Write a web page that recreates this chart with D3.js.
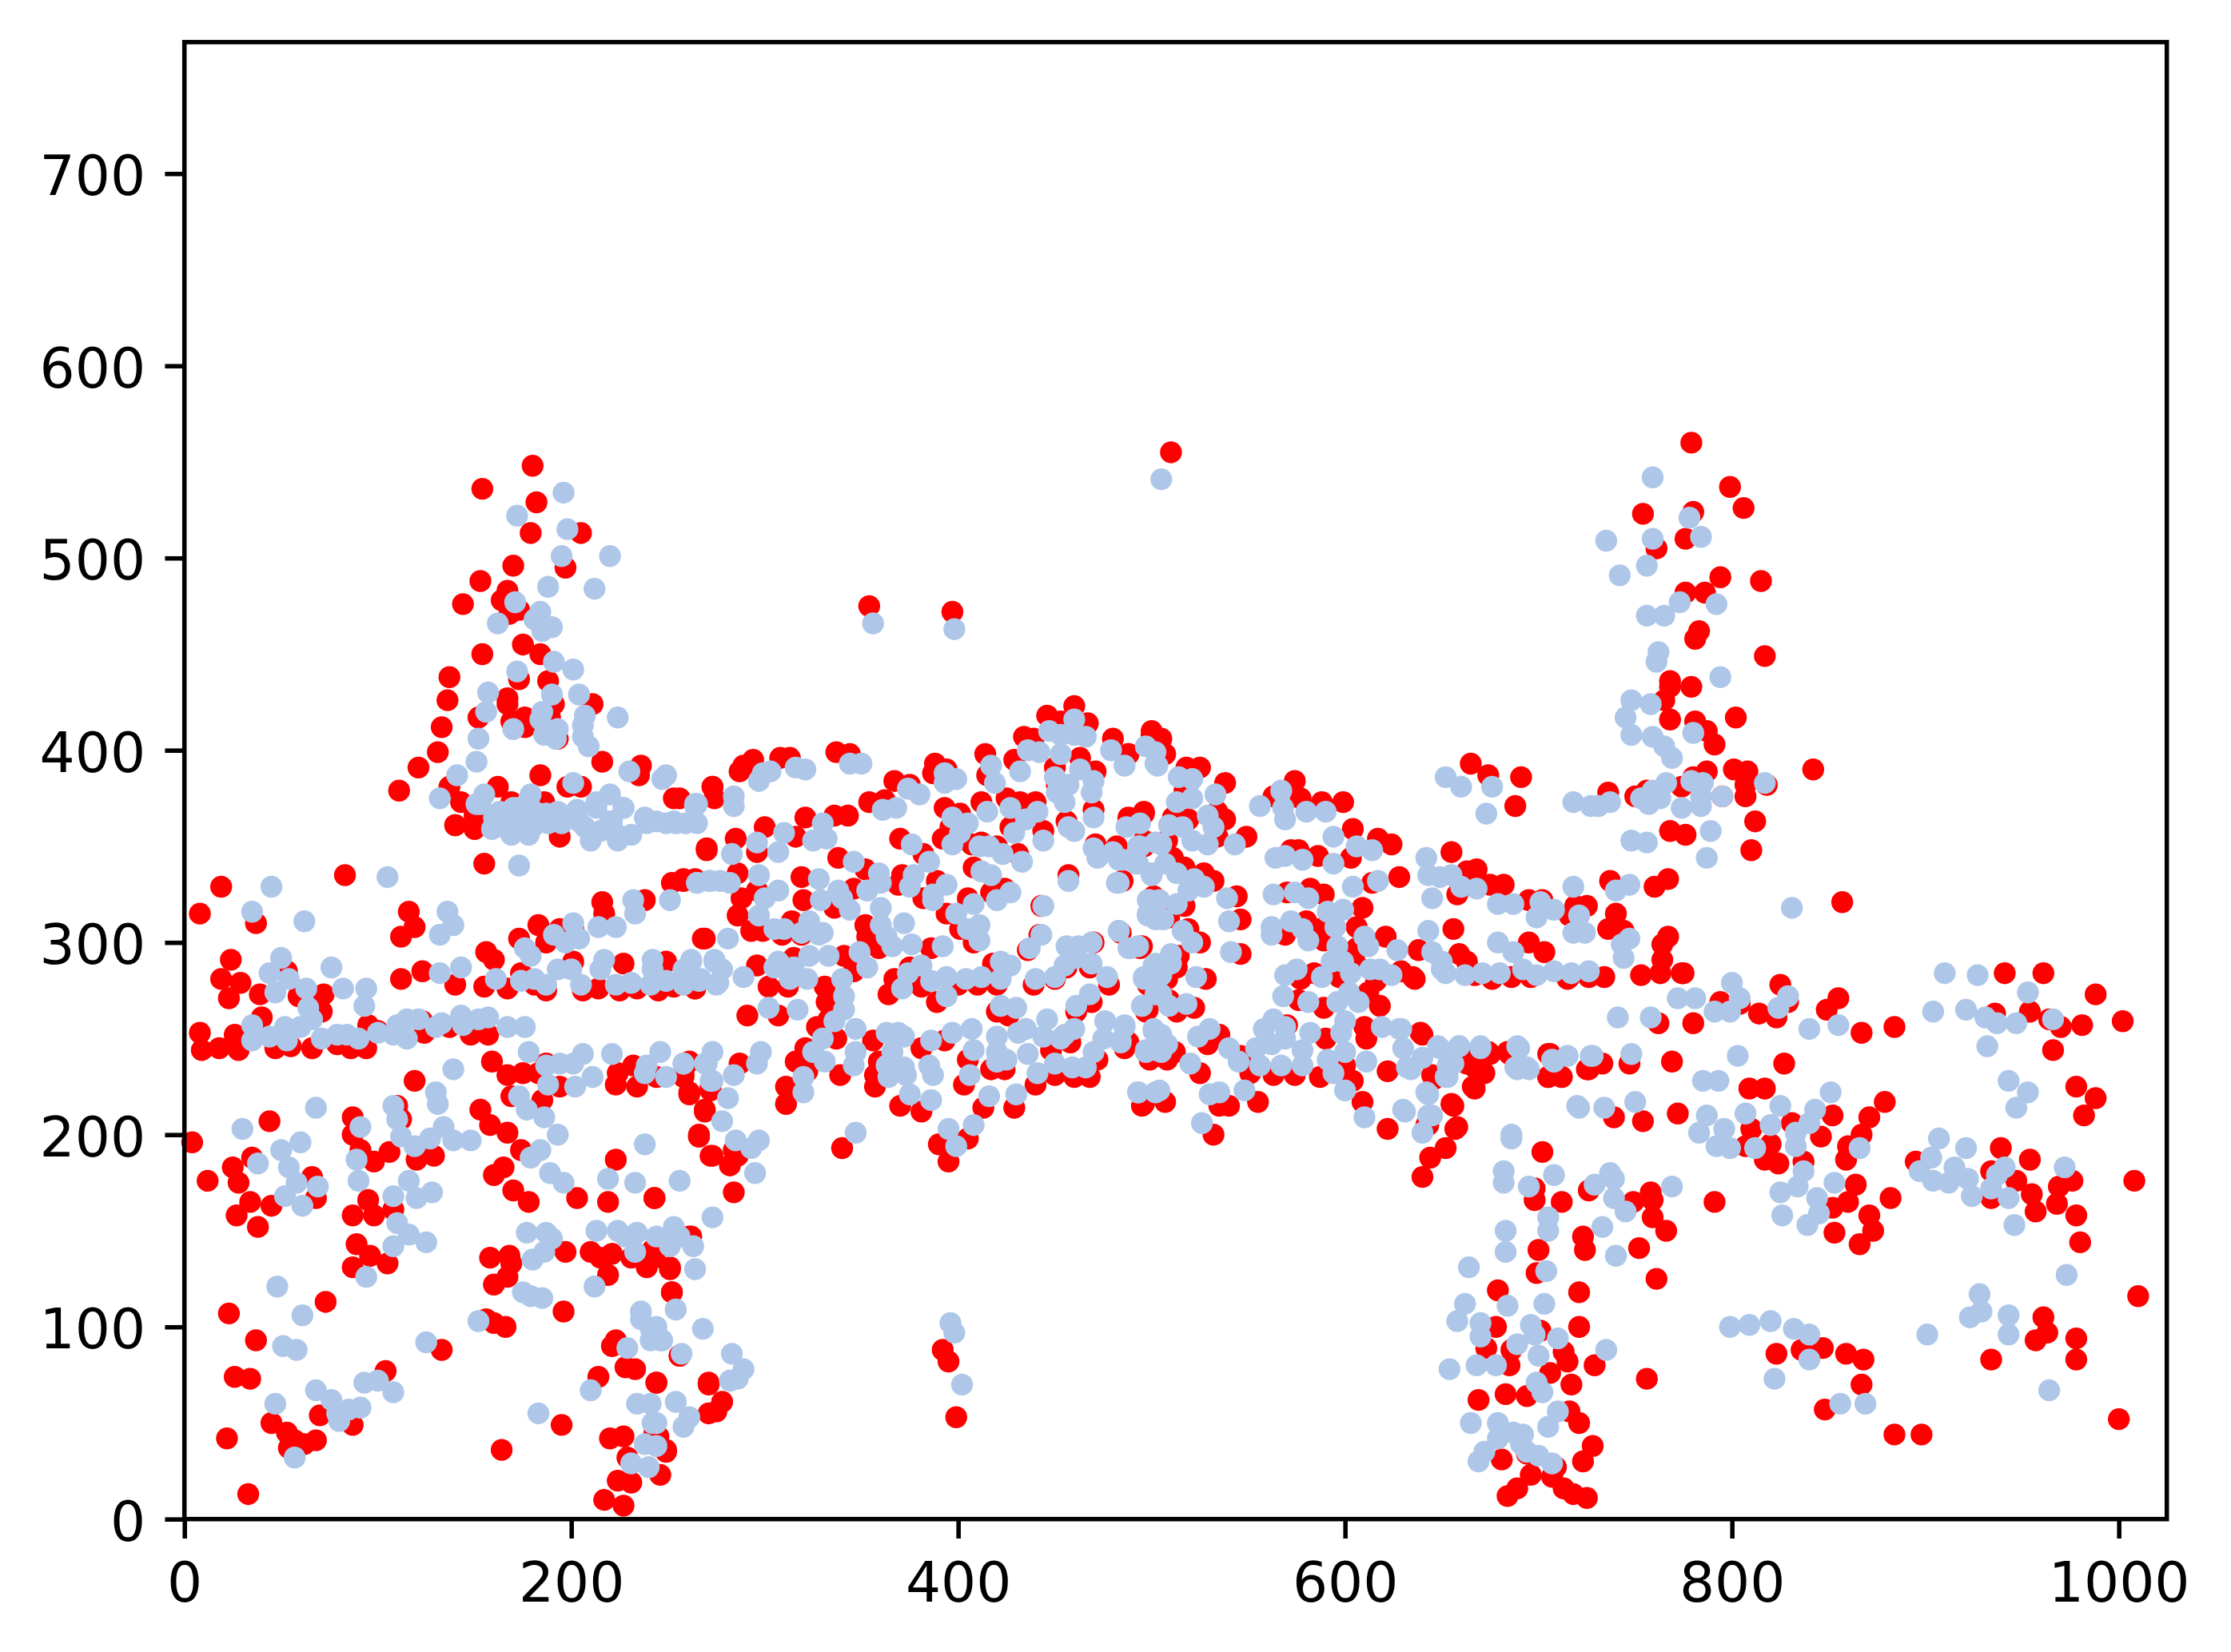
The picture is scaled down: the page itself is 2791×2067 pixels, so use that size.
<!DOCTYPE html>
<html>
<head>
<meta charset="utf-8">
<script src="https://d3js.org/d3.v7.min.js"></script>
<style>
  body { margin: 0; background: #fff; }
  text { font-family: "DejaVu Sans"; }
</style>
</head>
<body>
<div id="chart"></div>
<script>
// axis ticks
var xTicks = [0, 200, 400, 600, 800, 1000]
var yTicks = [0, 100, 200, 300, 400, 500, 600, 700]

// red points as [x, y]
var redLeft = [[140,361],[150,359],[194,355],[155,341],[83,335],[19,329],[8,315],[37,310],[270,348],[252,331],[258,332],[238,322],[216,321],[217,315],[116,316],[119,308],[112,303],[173,302],[183,309],[187,300],[201,307],[194,307],[269,302],[156,295],[160,291],[24,291],[19,281],[29,279],[23,271],[39,273],[53,285],[72,273],[59,272],[71,264],[40,261],[112,281],[123,285],[140,278],[155,277],[167,276],[174,284],[181,278],[187,275],[201,290],[206,275],[214,276],[225,275],[227,289],[234,276],[245,275],[249,290],[253,277],[264,276],
  [8,253],[9,244],[18,245],[26,252],[28,244],[47,245],[55,246],[66,245],[79,247],[86,245],[94,245],[95,257],[100,254],[123,259],[124,253],[137,256],[148,252],[157,252],[159,238],[167,231],[175,232],[183,232],[187,237],[119,228],[223,226],[224,232],[232,236],[234,225],[244,230],[258,232],[261,222],[272,225],[169,220],[185,218],[194,225],[153,213],[158,205],[167,201],[269,213],[266,199],[272,189],
  [4,196],[44,207],[87,209],[87,200],[110,215],[112,208],[91,192],[98,186],[106,191],[120,187],[129,189],[35,188],[25,183],[28,175],[12,176],[34,165],[45,163],[27,158],[38,152],[66,178],[68,167],[95,166],[108,161],[87,158],[98,158],[89,143],[96,137],[87,131],[105,133],[223,187],[174,192],[165,183],[160,179],[170,171],[178,165],[203,167],[219,165],[243,167],
  [158,136],[168,137],[169,133],[167,126],[160,122],[197,139],[210,139],[215,136],[221,138],[231,136],[219,127],[239,131],[242,140],[251,131],[262,147],[252,118],[23,107],[73,113],[37,93],[156,104],[160,102],[166,100],[196,108],[133,88],[223,93],[221,90],[228,79],[233,78],[256,85],[214,74],[26,74],[34,73],[104,77],[244,71],[271,71],[22,42],[45,50],[53,45],[57,41],[54,37],[62,39],[68,41],[70,54],[87,49],[195,49],[164,36],[271,55],[33,13],[220,42],[227,43],[229,32],[243,45],[249,36],[246,23],[224,20],[231,19],[217,10],[227,7],[278,61],[275,56]]

var redPeak = [[180,548],[154,536],[182,529],[179,513],[205,513],[170,496],[197,495],[153,488],[144,476],[167,483],[164,478],[173,473],[168,471],[175,455],[154,450],[184,450],[137,438],[173,437],[188,436],[136,426],[167,427],[167,424],[191,424],[211,424],[152,417],[133,412],[176,417],[169,415],[176,412],[189,417],[193,406],[131,399],[121,391],[216,394],[184,387],[236,392],[235,387],[111,379],[137,381],[162,381],[205,381],[198,381],[273,381],[253,375],[143,373],[140,361],[150,366],[186,373],[169,373]]

var redMiddle = [[273,381],[274,375],[287,389],[289,392],[294,395],[308,396],[313,396],[337,399],[344,398],[367,384],[375,382],[354,373],[362,374],[388,393],[394,390],[387,388],[414,398],[415,387],[429,395],[434,407],[439,406],[446,418],[453,415],[460,423],[467,414],[450,391],[463,396],[471,389],[451,382],[480,406],[488,398],[500,408],
  [256,375],[393,370],[401,367],[412,373],[425,375],[432,373],[440,373],[396,360],[392,354],[427,360],[444,358],[456,363],[470,369],[488,365],[496,367],[471,351],[482,350],[496,350],[457,335],[485,332],[443,319],[501,324],[442,304],[436,296],[484,305],[494,297],[470,300],[439,278],[450,281],[456,287],[468,287],[478,278],[469,269],[461,264],[497,264],[420,264],[426,262],
  [300,360],[316,355],[321,365],[336,366],[343,366],[285,354],[270,349],[296,347],[286,336],[258,333],[264,333],[288,323],[296,327],[286,314],[293,306],[299,306],[309,304],[314,311],[319,304],[268,302],[319,334],[320,322],[338,344],[352,338],[346,328],[336,318],[352,309],[353,303],[359,297],[341,293],[346,285],[371,335],[369,330],[370,354],[382,346],[389,332],[382,323],[394,315],[401,307],[408,300],[405,323],[417,326],[424,328],[408,339],[407,351],[412,352],[420,350],[431,346],[386,297],
  [296,288],[315,292],[302,277],[312,277],[331,277],[332,269],[333,260],[327,256],[321,245],[316,238],[322,233],[337,250],[264,276],[291,262],[307,262],[261,238],[287,237],[258,230],[272,223],[261,221],[269,212],[266,200],[311,225],[311,216],[339,231],
  [367,281],[364,273],[375,287],[381,277],[389,269],[400,278],[410,278],[420,278],[418,289],
  [356,249],[359,238],[357,231],[357,225],[370,215],[381,212],[381,245],[393,249],[405,239],[403,226],[413,214],[417,234],[424,234],[440,226],[450,231],[460,230],[468,230],[429,214],[495,215],[486,245],[472,239],[458,248],[448,244],
  [266,199],[273,189],[282,184],[286,189],[284,192],[284,170],[340,193],[390,195],[405,198],[395,186],[243,167],[261,147],[243,136],[251,130],[252,118],[256,85],[244,71],[271,70],[392,88],[395,82],[399,53],[249,35],[245,43],
  [510,555],[354,475],[397,472]]

var redCentre = [[500,410],[505,406],[507,398],[488,398],[518,391],[525,391],[538,383],[517,379],[534,368],[538,364],[496,368],[488,364],[519,364],[511,365],[496,353],[508,353],[534,355],[549,355],[511,344],[517,339],[527,336],[532,332],[544,324],[546,312],[546,294],[528,281],[522,266],[517,319],[509,313],[519,307],[525,300],[514,293],[495,298],[513,287],[508,281],[498,278],[509,270],[498,265],[513,264],[486,250],[512,243],[499,239],[508,239],[488,248],[535,252],[529,247],[546,241],[525,232],[496,216],[507,217],[535,215],[540,215],[555,217],[532,200],
  [574,384],[563,376],[577,375],[588,373],[599,373],[604,359],[617,354],[624,351],[572,348],[576,348],[586,345],[603,344],[614,331],[628,334],[570,326],[582,328],[589,325],[609,318],[606,308],[580,311],[587,307],[569,304],[589,301],[621,303],[606,297],[605,290],[584,284],[577,281],[597,282],[616,280],[629,285],[636,281],[612,274],[618,267],[576,270],[589,266],[570,257],[590,250],[610,256],[611,250],[640,252],[551,232],[563,231],[574,231],[587,230],[604,228],[600,236],[622,233],[609,217],[646,229],
  [665,393],[674,387],[691,386],[688,371],[655,347],[663,337],[668,338],[675,330],[682,330],[658,325],[695,322],[702,322],[719,319],[725,319],[716,314],[656,307],[695,300],[703,295],[638,296],[659,294],[663,290],[667,283],[676,281],[686,282],[696,282],[716,282],[726,282],
  [668,242],[675,242],[667,235],[672,232],[667,224],[685,242],[706,242],[705,230],[712,230],[726,234],[656,215],[658,204],[643,205],[622,203]]

var redRight = [[779,560],[799,537],[806,526],[754,523],[780,524],[776,510],[761,505],[794,490],[815,488],[776,482],[786,482],[783,462],[781,458],[817,449],[768,436],[768,433],[779,433],[765,426],[802,417],[768,416],[781,415],[787,410],[791,403],[842,390],[787,389],[780,386],[801,390],[808,389],[807,382],[818,382],[807,376],[795,376],[774,381],[736,378],[750,376],[756,379],[812,363],[810,348],[768,358],[776,356],[857,321],[767,333],[760,329],[737,332],[740,315],[736,307],[744,306],[767,303],[764,299],[764,291],[775,284],
  [635,282],[774,284],[763,284],[753,283],[715,281],[734,282],[941,284],[961,284],[988,273],[825,278],[794,269],[804,268],[829,269],[855,271],[849,265],[814,263],[823,261],[762,258],[780,258],[867,253],[884,256],[1002,259],[936,263],[954,264],[964,260],[970,256],[981,257],[966,244],
  [639,253],[674,243],[684,243],[705,242],[725,234],[733,237],[747,237],[769,238],[827,237],[705,230],[712,230],[670,233],[663,237],[645,231],[666,225],[655,216],[657,203],[652,193],[644,188],[640,178],[642,205],[809,224],[817,224],[739,209],[754,207],[772,211],[702,191],[852,210],[879,217],[871,209],[867,200],[860,194],[859,187],[846,199],[831,206],[810,203],[807,194],[820,195],[817,187],[824,185],[837,186],[864,174],[860,165],[852,162],[882,167],[871,158],[873,150],[866,143],[853,149],
  [895,186],[939,193],[954,187],[934,181],[947,176],[934,167],[955,169],[968,164],[969,173],[976,176],[957,160],[978,158],[980,144],[1008,176],[978,225],[988,219],[982,210],[1010,116],
  [698,172],[698,166],[712,165],[726,171],[749,165],[758,170],[759,166],[759,157],[766,150],[791,165],[723,147],[724,140],[752,141],[700,140],[699,128],[761,125],[679,119],[721,118],[678,100],[701,98],[721,100],[673,89],[686,88],[713,87],[715,82],[685,80],[729,80],[706,76],[717,70],[683,65],[694,64],[669,62],[756,73],[716,56],[721,50],[728,38],[723,30],[681,31],[694,34],[709,27],[696,23],[707,22],[689,16],[684,12],[713,16],[718,13],[725,11],
  [823,86],[836,88],[847,89],[859,86],[868,83],[867,70],[848,57],[884,44],[898,44],[1000,52],[934,83],[957,93],[961,105],[963,97],[978,94],[978,83]]

// blue points, drawn above the red ones
var blueLeft = [[151,372],[159,359],[169,356],[178,356],[163,367],[174,366],[185,366],[193,367],[202,367],[210,353],[220,363],[224,353],[231,356],[239,362],[249,362],[254,362],[264,363],[264,372],[227,370],[213,370],[204,363],[173,340],[105,334],[45,329],[35,316],[62,311],[136,316],[139,309],[132,304],[265,331],[272,332],[232,322],[233,315],[251,322],[214,308],[223,308],[201,310],[191,304],[204,302],[197,300],[176,297],[179,293],[143,287],[76,287],[50,292],[44,284],[54,281],[47,274],[63,276],[82,276],[94,276],[93,267],[64,266],[132,284],[161,281],[174,280],[181,281],[187,278],[193,286],[200,286],[205,278],[217,291],[215,286],[223,278],[231,279],[242,291],[242,286],[241,278],[249,280],[262,291],[258,286],[258,278],[266,280],[274,291],[275,278],
  [165,360],[172,362],[180,360],[188,362],[170,370],[178,374],[160,365],[195,362],[207,360],[215,358],[222,358],
  [35,257],[35,249],[44,251],[52,256],[53,249],[60,256],[66,260],[71,250],[79,252],[84,252],[90,250],[100,253],[108,252],[115,250],[110,257],[115,260],[121,260],[130,256],[133,258],[143,262],[144,257],[152,260],[157,261],[167,256],[176,256],[139,234],[178,243],[188,226],[187,236],[194,237],[202,225],[201,237],[206,242],[211,230],[221,242],[238,232],[246,243],[249,230],[258,237],[269,237],[272,228],[239,236],
  [68,214],[30,203],[130,222],[131,216],[108,215],[110,208],[112,199],[91,204],[89,187],[90,176],[119,194],[127,198],[134,204],[139,197],[148,197],[173,220],[177,213],[186,209],[193,200],[184,192],[179,188],[189,180],[196,175],[60,196],[50,192],[54,183],[38,185],[58,175],[52,168],[61,163],[69,173],[116,176],[108,168],[120,167],[128,170],[110,154],[116,148],[108,142],[125,144],[94,126],[238,195],[219,177],[233,175],[177,149],[187,149],[190,146],[186,139],[180,135],[213,150],[224,150],[228,147],[234,149],[233,139],[212,121],[175,118],[179,116],[185,115],
  [48,121],[61,106],[51,90],[58,88],[152,103],[125,92],[68,67],[76,62],[47,60],[79,55],[80,51],[85,57],[91,58],[93,71],[100,72],[108,66],[57,32],[183,55],[236,108],[236,104],[241,99],[241,93],[247,93],[229,89],[210,67],[234,60],[241,60],[242,50],[238,39],[231,29],[240,27]]

var bluePeak = [[196,534],[172,522],[198,515],[195,501],[220,501],[188,485],[212,484],[171,477],[162,466],[184,472],[181,468],[185,462],[190,464],[191,446],[201,442],[172,441],[157,430],[156,420],[190,429],[204,429],[185,420],[184,416],[207,418],[206,413],[224,417],[170,411],[186,408],[193,411],[192,406],[206,407],[209,402],[152,406],[151,394],[230,389],[247,385],[249,387],[141,387],[132,375],[201,383],[155,377],[153,372],[179,377],[220,377],[227,370],[265,372],[203,369],[213,373],[163,368],[172,370],[193,368],[187,367],[181,368],[221,363],[238,365],[244,363],[253,363],[263,363]]

var blueMiddle = [[264,371],[259,362],[265,362],[284,376],[284,371],[297,384],[299,388],[303,389],[316,391],[321,390],[344,393],[350,393],[374,380],[380,377],[361,369],[368,370],[393,388],[399,385],[393,383],[417,392],[419,383],[432,389],[436,400],[442,399],[447,410],[453,408],[460,416],[460,408],[466,407],[453,398],[450,386],[463,390],[470,384],[469,378],[451,378],[455,373],[457,382],[479,400],[486,392],[497,402],[502,393],[415,368],[427,370],[435,364],[441,368],[429,357],[444,353],[457,360],[460,358],[470,365],[397,365],[405,362],[401,357],[397,351],[494,362],[487,360],[470,349],[472,344],[480,347],[483,343],[493,350],[492,341],[502,352],[482,331],[500,335],[457,332],[444,319],[498,322],[498,315],[443,304],[437,297],[483,306],[489,297],[456,298],[462,298],[469,300],[455,288],[461,292],[469,289],[477,282],[450,282],[440,281],[501,288],[496,281],[468,273],[461,267],[495,267],[502,273],[422,267],[430,266],
  [411,350],[416,350],[423,346],[433,342],[412,337],[417,335],[376,351],[385,342],[377,335],[375,329],[394,330],[387,325],[387,322],[427,326],[420,322],[408,320],[399,315],[411,309],[405,307],[411,301],[392,298],
  [359,336],[360,331],[353,327],[346,342],[328,333],[338,327],[329,322],[340,323],[344,317],[360,318],[360,309],[363,303],[372,310],[366,298],[376,299],
  [330,362],[325,353],[332,354],[310,357],[296,352],[307,347],[283,346],[265,331],[271,332],[277,332],[282,331],[297,335],[307,327],[300,323],[297,314],[305,307],[310,307],[319,305],[323,311],[330,305],[328,304],[281,302],
  [262,290],[274,290],[278,286],[267,281],[258,279],[276,279],[289,282],[307,290],[305,287],[315,287],[323,293],[333,293],[349,295],[353,287],[313,281],[322,281],[340,281],[341,272],[341,265],[336,259],[347,255],[330,250],[325,243],[331,238],[347,243],[346,236],[302,266],[317,265],
  [374,284],[371,276],[381,288],[386,280],[394,282],[404,281],[412,282],[422,281],[422,290],[427,288],[394,272],
  [273,243],[258,237],[270,237],[298,243],[296,237],[273,228],[284,231],[281,219],[278,207],[320,230],[320,222],
  [363,253],[369,253],[372,251],[366,243],[363,236],[372,235],[364,230],[373,231],[375,221],[385,236],[387,231],[386,218],[386,249],[397,253],[407,255],[408,244],[406,231],[420,251],[420,243],[420,238],[425,239],[431,253],[435,255],[436,242],[446,260],[444,251],[453,250],[460,255],[455,252],[476,259],[475,250],[486,257],[484,249],[470,243],[466,235],[459,235],[450,237],[441,232],[416,220],[430,221],[493,222],[502,222],[501,254],[497,243],[502,244],
  [285,197],[297,197],[293,193],[295,180],[256,176],[347,201],[395,203],[408,205],[399,194],[273,157],[253,152],[244,147],[256,147],[251,142],[263,142],[264,130],[254,109],[268,99],[244,100],[246,93],[257,86],[283,86],[289,78],[286,73],[282,72],[254,61],[261,53],[258,48],[396,102],[398,97],[402,70],[244,50],[244,38],
  [505,541],[356,466],[398,463]]

var blueCentre = [[502,399],[503,392],[514,386],[521,385],[521,375],[513,373],[533,377],[529,366],[532,360],[509,361],[516,360],[521,353],[529,351],[505,351],[494,350],[543,351],
  [556,371],[567,379],[568,370],[569,364],[580,368],[590,368],[594,355],[606,350],[614,348],[564,344],[569,345],[578,343],[594,341],[604,329],[617,332],
  [642,344],[643,335],[649,334],[655,335],[660,329],[668,328],[645,323],[679,320],[687,320],[701,321],[708,317],[699,313],[718,329],[721,314],[718,305],[724,305],[652,386],[660,381],[676,381],[673,367],[718,373],[727,371],
  [485,343],[493,341],[500,336],[507,341],[513,336],[522,333],[527,329],[519,327],[539,323],[540,311],[499,322],[504,322],[513,320],[498,314],[502,312],[506,312],[483,331],
  [563,325],[574,326],[581,323],[591,316],[599,317],[595,308],[562,308],[562,304],[572,311],[578,307],[581,301],[596,298],[610,303],[612,298],[627,296],
  [643,306],[645,295],[650,290],[650,286],[652,284],[662,283],[671,284],[680,284],[679,300],[687,295],[692,286],[699,283],[708,285],[717,284],[726,285],
  [516,306],[521,300],[493,298],[483,306],[488,297],[510,294],[502,289],[510,289],[496,282],[505,283],[523,282],[505,273],[509,267],[518,268],[495,267],[541,295],
  [569,283],[575,286],[588,282],[593,290],[599,290],[603,284],[613,286],[618,286],[624,283],[568,272],[581,269],[596,269],[607,269],[602,274],
  [486,256],[484,248],[501,255],[505,252],[508,247],[497,244],[505,243],[520,237],[524,251],[530,255],[540,245],[545,238],[493,222],[504,223],[530,221],[535,222],[548,223],[526,206],
  [563,260],[558,255],[569,256],[569,250],[554,245],[562,247],[556,236],[567,236],[578,236],[578,244],[582,253],[600,259],[598,253],[600,243],[591,239],[594,232],[600,223],[611,238],[619,256],[628,255],[630,245],[640,240],[634,234],[649,245],[659,246],[653,236],[653,230],[670,245],[690,245],[689,234],[695,234],[708,238],[715,241],[728,241],[643,221],[645,210],[631,212],[610,209],[721,214],[686,200],[640,201]]

var blueRight = [[759,542],[778,521],[784,511],[759,510],[735,509],[742,491],[756,496],[773,477],[792,476],[756,470],[765,470],[794,438],[762,451],[761,446],[748,426],[758,424],[745,417],[748,408],[759,407],[765,402],[769,396],[780,409],[817,383],[779,384],[785,383],[766,383],[759,379],[753,375],[763,375],[757,372],[774,370],[784,371],[784,376],[795,376],[731,371],[737,373],[789,358],[787,344],[748,353],[756,352],[831,318],[747,330],[740,327],[747,302],[743,299],[744,292],
  [910,284],[927,283],[953,274],[921,265],[904,264],[931,261],[937,258],[947,258],[966,260],[932,246],[800,279],[804,271],[772,271],[781,271],[791,264],[799,264],[829,272],[824,266],[741,261],[758,261],[840,255],[855,257],
  [689,246],[670,246],[659,246],[648,246],[656,237],[652,230],[632,235],[629,255],[642,222],[643,210],[630,213],[688,235],[694,235],[707,239],[715,241],[727,241],[748,242],[720,215],[734,214],[750,217],[803,241],[785,228],[793,228],[787,210],[783,201],[796,203],[792,194],[799,193],[807,211],[812,193],[820,205],[825,215],[851,222],[843,213],[840,206],[833,201],[833,194],[943,228],[953,222],[947,214],[907,198],[903,188],[897,181],[904,176],[912,175],[915,183],[922,177],[921,193],[924,168],[934,172],[937,179],[941,183],[943,167],[972,183],[946,153],[686,198],[866,193],[837,181],[834,173],[825,170],[853,175],[844,167],[845,159],[839,153],[826,158],
  [682,181],[682,175],[708,179],[695,173],[729,174],[737,180],[739,177],[739,167],[745,160],[769,173],[705,157],[705,150],[683,150],[683,139],[733,152],[740,137],[664,131],[704,129],[662,112],[684,111],[703,112],[658,103],[670,102],[670,95],[696,101],[698,96],[710,94],[689,91],[700,85],[735,88],[668,80],[678,80],[654,78],[699,71],[702,66],[710,56],[705,48],[665,50],[679,50],[679,42],[687,45],[692,44],[691,39],[694,35],[700,33],[707,29],[672,35],[669,30],
  [799,100],[809,101],[820,103],[832,99],[840,96],[840,83],[822,73],[856,60],[869,60],[964,67],[973,127],[928,117],[929,108],[923,105],[943,106],[943,96],[901,96]]

var redPoints = redLeft.concat(redPeak, redMiddle, redCentre, redRight)
var bluePoints = blueLeft.concat(bluePeak, blueMiddle, blueCentre, blueRight)

var width = 2791
var height = 2067
var margin = { top: 52.7, right: 80.3, bottom: 166.3, left: 230.7 }
var plotW = width - margin.left - margin.right
var plotH = height - margin.top - margin.bottom

var svg = d3.select("#chart")
  .append("svg")
  .attr("width", width)
  .attr("height", height)
  .style("display", "block")

var x = d3.scaleLinear().domain([0, 1024.8]).range([margin.left, margin.left + plotW])
var y = d3.scaleLinear().domain([0, 768.4]).range([margin.top + plotH, margin.top])

// red goes first so the blue sits on top
svg.append("g").selectAll("circle")
  .data(redPoints)
  .enter()
  .append("circle")
  .attr("cx", function (d) { return x(d[0]) })
  .attr("cy", function (d) { return y(d[1]) })
  .attr("r", 13.7)
  .attr("fill", "#ff0000")

svg.append("g").selectAll("circle")
  .data(bluePoints)
  .enter()
  .append("circle")
  .attr("cx", function (d) { return x(d[0]) })
  .attr("cy", function (d) { return y(d[1]) })
  .attr("r", 13.7)
  .attr("fill", "#aec7e8")

var xAxis = d3.axisBottom(x).tickValues(xTicks).tickFormat(d3.format("d")).tickSize(24.3).tickPadding(30).tickSizeOuter(0)
var yAxis = d3.axisLeft(y).tickValues(yTicks).tickFormat(d3.format("d")).tickSize(24.3).tickPadding(24.3).tickSizeOuter(0)

var gx = svg.append("g").attr("transform", "translate(0," + (margin.top + plotH) + ")").call(xAxis)
var gy = svg.append("g").attr("transform", "translate(" + margin.left + ",0)").call(yAxis)

gx.select(".domain").remove()
gy.select(".domain").remove()

svg.selectAll(".tick line").attr("stroke", "#000").attr("stroke-width", 5.55)
svg.selectAll(".tick text")
  .attr("fill", "#000")
  .style("font-family", "DejaVu Sans")
  .style("font-size", "69.44px")

// nudge the y labels down a little, they sat too high
gy.selectAll(".tick text").attr("dy", "0.38em")

// the box round the plot
svg.append("rect")
  .attr("x", margin.left)
  .attr("y", margin.top)
  .attr("width", plotW)
  .attr("height", plotH)
  .attr("fill", "none")
  .attr("stroke", "#000")
  .attr("stroke-width", 5.55)
</script>
</body>
</html>
